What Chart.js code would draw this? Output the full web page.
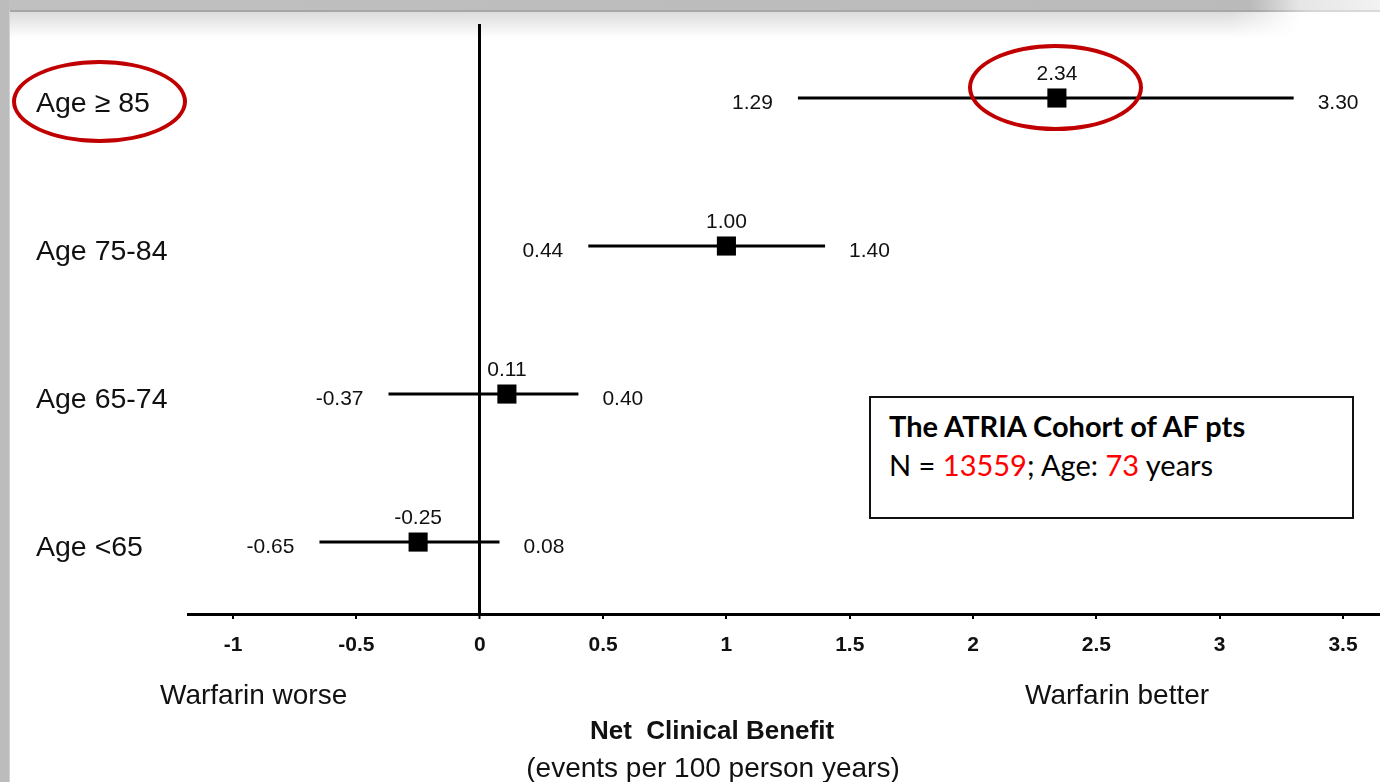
<!DOCTYPE html>
<html>
<head>
<meta charset="utf-8">
<script src="https://cdn.jsdelivr.net/npm/chart.js@4"></script>
<style>
  html, body { margin:0; padding:0; background:#fff; }
  body { width:1380px; height:782px; position:relative; overflow:hidden; font-family:"Liberation Sans", Arial, sans-serif; color:#111; }
  .abs { position:absolute; white-space:pre; }
  #topbar { left:0; top:0; width:1380px; height:10px; background:linear-gradient(to right,#c0c0c0 0,#bababa 1250px,#e6e6e6 1300px,#f2f2f2 1380px); z-index:0; }
  #topline { left:9px; top:10px; width:1371px; height:2px; background:linear-gradient(to right,#a6a6a6 0,#a8a8a8 1250px,#d6d6d6 1300px,#dadada 1371px); z-index:0; }
  #shadow { left:10px; top:12px; width:1300px; height:26px; background:linear-gradient(to bottom,#dcdcdc,#ffffff);
            -webkit-mask-image:linear-gradient(to right,#000 1220px,transparent 1290px); mask-image:linear-gradient(to right,#000 1220px,transparent 1290px); z-index:0; }
  #leftbar { left:0; top:0; width:9px; height:782px; background:#bcbcbc; z-index:0; }
  #leftline { left:9px; top:10px; width:1px; height:772px; background:#d2d2d2; z-index:0; }
  canvas { position:absolute; left:0; top:0; z-index:1; }
  .ell { position:absolute; box-sizing:border-box; border:4.5px solid #c00000; border-radius:50%; z-index:3; }
  .txt { z-index:2; font-size:28px; line-height:32px; }
  #box { position:absolute; left:869px; top:396px; width:485px; height:123px; box-sizing:border-box; border:2px solid #111; background:#fff; z-index:2; }
  .cal { font-family:Lato, "Open Sans", sans-serif; z-index:3; line-height:32px; color:#000; }
  .red { color:#ff0000; }
</style>
</head>
<body>
<div id="topbar" class="abs"></div>
<div id="topline" class="abs"></div>
<div id="shadow" class="abs"></div>
<div id="leftbar" class="abs"></div>
<div id="leftline" class="abs"></div>
<canvas id="c" width="1380" height="782"></canvas>

<div class="abs txt" style="left:160px; top:679px;">Warfarin worse</div>
<div class="abs txt" style="left:1025px; top:679px;">Warfarin better</div>
<div class="abs txt" style="left:412px; width:600px; text-align:center; top:714px; font-weight:bold; font-size:26px;">Net  Clinical Benefit</div>
<div class="abs txt" style="left:413px; width:600px; text-align:center; top:752px;">(events per 100 person years)</div>

<div id="box"></div>
<div class="abs cal" style="left:889px; top:410px; font-weight:bold; font-size:29px;">The ATRIA Cohort of AF pts</div>
<div class="abs cal" style="left:889px; top:449px; font-size:29px;">N = <span class="red">13559</span>; Age: <span class="red">73</span> years</div>

<div class="ell" style="left:12px; top:60px; width:175px; height:83px;"></div>
<div class="ell" style="left:968px; top:44px; width:175px; height:87px;"></div>

<script>
// ---- data ----
const categories = ['Age <65', 'Age 65-74', 'Age 75-84', 'Age \u2265 85'];
const estimates = [-0.25, 0.11, 1.00, 2.34];
const lowerCI = [-0.65, -0.37, 0.44, 1.29];
const upperCI = [0.08, 0.40, 1.40, 3.30];
const estimateLabels = ['-0.25', '0.11', '1.00', '2.34'];
const lowerLabels = ['-0.65', '-0.37', '0.44', '1.29'];
const upperLabels = ['0.08', '0.40', '1.40', '3.30'];
const xTicks = [-1, -0.5, 0, 0.5, 1, 1.5, 2, 2.5, 3, 3.5];
const rowIndex = [0, 1, 2, 3];

const FONT = '"Liberation Sans", Arial, sans-serif';

const ciDatasets = categories.map((c, i) => ({
  type: 'line',
  label: c + ' CI',
  data: [{x: lowerCI[i], y: rowIndex[i]}, {x: upperCI[i], y: rowIndex[i]}],
  borderColor: '#000',
  borderWidth: 3,
  pointRadius: 0,
  fill: false,
  order: 1
}));

const estDataset = {
  type: 'scatter',
  label: 'Net clinical benefit',
  data: estimates.map((v, i) => ({x: v, y: rowIndex[i]})),
  pointStyle: 'rect',
  pointRadius: 13.5,
  backgroundColor: '#000',
  borderColor: '#000',
  borderWidth: 0,
  order: 0
};

const valueLabels = {
  id: 'valueLabels',
  afterDatasetsDraw(chart) {
    const {ctx, scales: {x, y}} = chart;
    ctx.save();
    ctx.fillStyle = '#111';
    ctx.font = '21px ' + FONT;
    ctx.textBaseline = 'middle';
    rowIndex.forEach((r, i) => {
      const py = y.getPixelForValue(r);
      ctx.textAlign = 'right';
      ctx.fillText(lowerLabels[i], x.getPixelForValue(lowerCI[i]) - 25, py + 5);
      ctx.textAlign = 'left';
      ctx.fillText(upperLabels[i], x.getPixelForValue(upperCI[i]) + 24, py + 5);
      ctx.textAlign = 'center';
      ctx.fillText(estimateLabels[i], x.getPixelForValue(estimates[i]), py - 24);
    });
    ctx.restore();
  }
};

new Chart(document.getElementById('c'), {
  data: { datasets: [estDataset, ...ciDatasets] },
  options: {
    responsive: false,
    devicePixelRatio: 1,
    animation: false,
    layout: { autoPadding: false, padding: { left: 36, top: 24, right: 0, bottom: 0 } },
    plugins: { legend: { display: false }, tooltip: { enabled: false } },
    scales: {
      x: {
        type: 'linear',
        min: -1.183,
        max: 3.65,
        afterBuildTicks: (axis) => { axis.ticks = xTicks.map(v => ({value: v})); },
        afterFit: (axis) => { axis.height = 168; axis.paddingLeft = 0; axis.paddingRight = 0; },
        border: { display: true, color: '#000', width: 3 },
        grid: {
          drawOnChartArea: true,
          drawTicks: true,
          tickLength: 5,
          tickWidth: 2,
          tickColor: '#000',
          color: (ctx) => (ctx.tick && ctx.tick.value === 0) ? '#000' : 'rgba(0,0,0,0)',
          lineWidth: (ctx) => (ctx.tick && ctx.tick.value === 0) ? 3 : 0
        },
        ticks: {
          padding: 14,
          color: '#111',
          font: { family: FONT, size: 21, weight: 'bold' },
          maxRotation: 0,
          callback: (v) => String(v)
        }
      },
      y: {
        type: 'linear',
        min: -0.486,
        max: 3.5,
        afterBuildTicks: (axis) => { axis.ticks = rowIndex.map(v => ({value: v})); },
        afterFit: (axis) => { axis.width = 152; axis.paddingTop = 0; axis.paddingBottom = 0; },
        border: { display: false },
        grid: { display: false },
        ticks: {
          crossAlign: 'far',
          labelOffset: 6,
          color: '#111',
          font: { family: FONT, size: 28.5 },
          callback: (v) => categories[v]
        }
      }
    }
  },
  plugins: [valueLabels]
});
</script>
</body>
</html>
